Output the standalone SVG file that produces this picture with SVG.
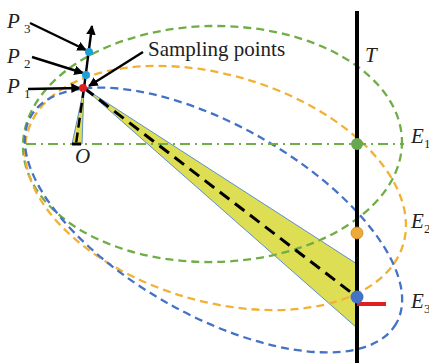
<svg xmlns="http://www.w3.org/2000/svg" width="429" height="363" viewBox="0 0 429 363">
<style>
.ell{fill:none;stroke-width:2.3;stroke-dasharray:8 5}
.lbl{font-family:"Liberation Serif",serif;font-style:italic;font-size:21px;fill:#222}
.sub{font-family:"Liberation Serif",serif;font-size:13px;fill:#222}
.arr{stroke:#000;stroke-width:2.4;fill:none;marker-end:url(#ah)}
</style>
<defs>
<marker id="ah" viewBox="0 0 10 10" refX="9" refY="5" markerWidth="4" markerHeight="4" orient="auto" markerUnits="strokeWidth">
<path d="M0,0 L10,5 L0,10 z" fill="#000"/>
</marker>
</defs>
<rect width="429" height="363" fill="#fff"/>
<g id="wedges">
<polygon points="84,88 357,264 357,328" fill="#DEDE55" stroke="#5B8FD0" stroke-width="1"/>
<polygon points="84,88 72,144 82,144" fill="#DEDE55" stroke="#5B8FD0" stroke-width="1"/>
</g>
<g id="ellipses">
<ellipse id="E1" class="ell" stroke="#70AD47" cx="212.5" cy="144" rx="189.5" ry="118" transform="rotate(-1 212.5 144)"/>
<ellipse id="E2" class="ell" stroke="#F2B134" cx="215.5" cy="188" rx="196" ry="113" transform="rotate(16.8 215.5 188)"/>
<ellipse id="E3" class="ell" stroke="#4472C4" cx="213.5" cy="220" rx="210" ry="95" transform="rotate(29.5 213.5 220)"/>
<line x1="26" y1="144" x2="404" y2="144" stroke="#70AD47" stroke-width="2.2" stroke-dasharray="10 5 2 5"/>
</g>
<g id="connectors">
<line x1="84" y1="88" x2="357" y2="297" stroke="#000" stroke-width="3" stroke-dasharray="12 7"/>
<line x1="84" y1="88" x2="76" y2="144" stroke="#000" stroke-width="2.5" stroke-dasharray="10 5"/>
<line x1="72" y1="144" x2="81" y2="144" stroke="#000" stroke-width="3"/>
<line class="arr" x1="84" y1="88" x2="92" y2="26"/>
<line class="arr" x1="30" y1="23" x2="86" y2="50"/>
<line class="arr" x1="32" y1="57" x2="83" y2="73"/>
<line class="arr" x1="28" y1="89" x2="80" y2="88"/>
<line class="arr" x1="143" y1="52" x2="89" y2="86"/>
<line x1="357" y1="11" x2="357" y2="363" stroke="#000" stroke-width="4"/>
<line x1="357" y1="304" x2="386" y2="304" stroke="#E02020" stroke-width="4"/>
</g>
<g id="points">
<circle cx="83" cy="88" r="4" fill="#E02020"/>
<circle cx="86" cy="75" r="4" fill="#1E9FD8"/>
<circle cx="89" cy="52" r="4" fill="#1E9FD8"/>
<circle cx="357" cy="144" r="6" fill="#6AA84F"/>
<circle cx="357" cy="233" r="6" fill="#EDA93A" stroke="#C88A20" stroke-width="0.8"/>
<circle cx="357" cy="297" r="6.5" fill="#4472C4"/>
</g>
<g id="labels">
<text class="lbl" x="7" y="28">P</text><text class="sub" x="24" y="33">3</text>
<text class="lbl" x="7" y="63">P</text><text class="sub" x="24" y="68">2</text>
<text class="lbl" x="7" y="93">P</text><text class="sub" x="24" y="98">1</text>
<text x="148" y="56" style="font-family:'Liberation Serif',serif;font-size:21px;fill:#222">Sampling points</text>
<text class="lbl" x="75" y="163">O</text>
<text class="lbl" x="365" y="62">T</text>
<text class="lbl" x="411" y="143">E</text><text class="sub" x="424" y="148">1</text>
<text class="lbl" x="411" y="228">E</text><text class="sub" x="424" y="233">2</text>
<text class="lbl" x="411" y="308">E</text><text class="sub" x="424" y="313">3</text>
</g>
</svg>
